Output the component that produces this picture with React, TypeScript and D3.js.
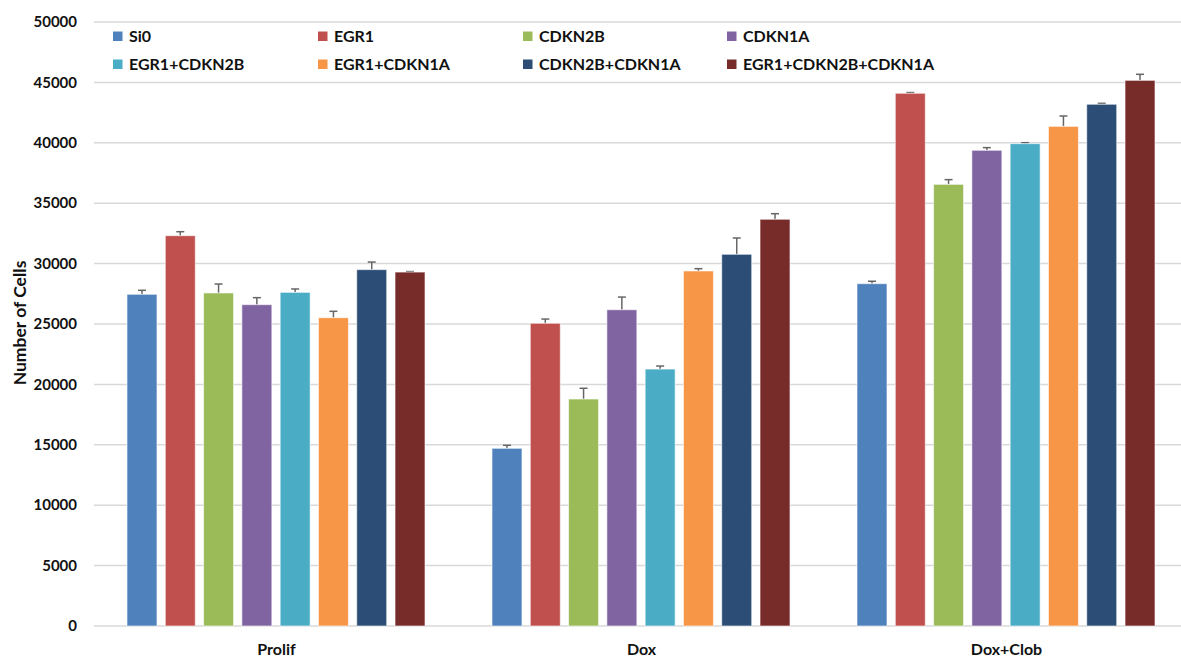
import React from "react";
import * as d3 from "d3";

const groups = ["Prolif", "Dox", "Dox+Clob"];
const seriesNames = [
  "Si0",
  "EGR1",
  "CDKN2B",
  "CDKN1A",
  "EGR1+CDKN2B",
  "EGR1+CDKN1A",
  "CDKN2B+CDKN1A",
  "EGR1+CDKN2B+CDKN1A",
];
const colors = ["#4F81BD", "#C0504D", "#9BBB59", "#8064A2", "#4BACC6", "#F79646", "#2C4D75", "#772C2A"];

// values per series: [Prolif, Dox, Dox+Clob]
const valSi0 = [27460, 14710, 28340];
const valEGR1 = [32310, 25060, 44100];
const valCDKN2B = [27570, 18790, 36560];
const valCDKN1A = [26600, 26180, 39380];
const valEGR1CDKN2B = [27620, 21270, 39930];
const valEGR1CDKN1A = [25520, 29390, 41360];
const valCDKN2BCDKN1A = [29500, 30770, 43190];
const valTriple = [29300, 33670, 45170];

const errSi0 = [330, 250, 200];
const errEGR1 = [330, 350, 60];
const errCDKN2B = [740, 890, 390];
const errCDKN1A = [580, 1050, 220];
const errEGR1CDKN2B = [280, 250, 80];
const errEGR1CDKN1A = [530, 190, 860];
const errCDKN2BCDKN1A = [630, 1350, 80];
const errTriple = [40, 460, 500];

const values = [valSi0, valEGR1, valCDKN2B, valCDKN1A, valEGR1CDKN2B, valEGR1CDKN1A, valCDKN2BCDKN1A, valTriple];
const errors = [errSi0, errEGR1, errCDKN2B, errCDKN1A, errEGR1CDKN2B, errEGR1CDKN1A, errCDKN2BCDKN1A, errTriple];

const yTicks = [0, 5000, 10000, 15000, 20000, 25000, 30000, 35000, 40000, 45000, 50000];

const W = 1181;
const H = 657;
const FONT = "Lato, 'Open Sans', sans-serif";
const TEXT = "#111";

export default function App() {
  const x0 = d3.scaleBand<string>().domain(groups).range([94, 1189]).padding(0);
  const x1 = d3
    .scaleBand<string>()
    .domain(seriesNames)
    .range([33, 331])
    .paddingInner(0.217)
    .paddingOuter(0);
  const y = d3.scaleLinear().domain([0, 50000]).range([626, 22]);

  const legendCols = [113, 318, 523, 727];
  const legendRows = [36, 64];

  return (
    <svg
      width={W}
      height={H}
      style={{ position: "absolute", left: 0, top: 0, background: "#fff" }}
      fontFamily={FONT}
    >
      <rect x={0} y={0} width={W} height={H} fill="#fff" />
      {/* gridlines */}
      {yTicks.map((t) => (
        <line key={t} x1={94} x2={W} y1={y(t)} y2={y(t)} stroke="#d9d9d9" strokeWidth={1.5} />
      ))}
      {/* y tick labels */}
      {yTicks.map((t) => (
        <text
          key={"l" + t}
          x={77}
          y={y(t)}
          dy="0.35em"
          textAnchor="end"
          fontSize={15}
          fontWeight="bold"
          fill={TEXT}
        >
          {t}
        </text>
      ))}
      {/* y axis title */}
      <text
        transform={`translate(20,323) rotate(-90)`}
        dy="0.35em"
        textAnchor="middle"
        fontSize={17.5}
        fontWeight="bold"
        fill={TEXT}
      >
        Number of Cells
      </text>
      {/* bars */}
      {groups.map((g, gi) => (
        <g key={g} transform={`translate(${x0(g)},0)`}>
          {seriesNames.map((s, si) => {
            const v = values[si][gi];
            const e = errors[si][gi];
            const bx = x1(s)!;
            const bw = x1.bandwidth();
            const cx = bx + bw / 2;
            return (
              <g key={s}>
                <line x1={cx} x2={cx} y1={y(v)} y2={y(v + e)} stroke="#666" strokeWidth={1.5} />
                <line x1={cx - 4} x2={cx + 4} y1={y(v + e)} y2={y(v + e)} stroke="#666" strokeWidth={1.5} />
                <rect
                  x={bx}
                  y={y(v)}
                  width={bw}
                  height={y(0) - y(v)}
                  fill={colors[si]}
                  stroke="#ffffff"
                  strokeOpacity={0.6}
                  strokeWidth={1}
                />
              </g>
            );
          })}
        </g>
      ))}
      {/* x labels */}
      {groups.map((g) => (
        <text
          key={"x" + g}
          x={x0(g)! + x0.bandwidth() / 2}
          y={649}
          dy="0.35em"
          textAnchor="middle"
          fontSize={16}
          fontWeight="bold"
          fill={TEXT}
        >
          {g}
        </text>
      ))}
      {/* legend */}
      {seriesNames.map((s, i) => {
        const lx = legendCols[i % 4];
        const ly = legendRows[Math.floor(i / 4)];
        return (
          <g key={"lg" + s}>
            <rect x={lx} y={ly - 4.5} width={9.5} height={9.5} fill={colors[i]} />
            <text x={lx + 16} y={ly} dy="0.35em" fontSize={16} fontWeight="bold" fill={TEXT}>
              {s}
            </text>
          </g>
        );
      })}
    </svg>
  );
}
